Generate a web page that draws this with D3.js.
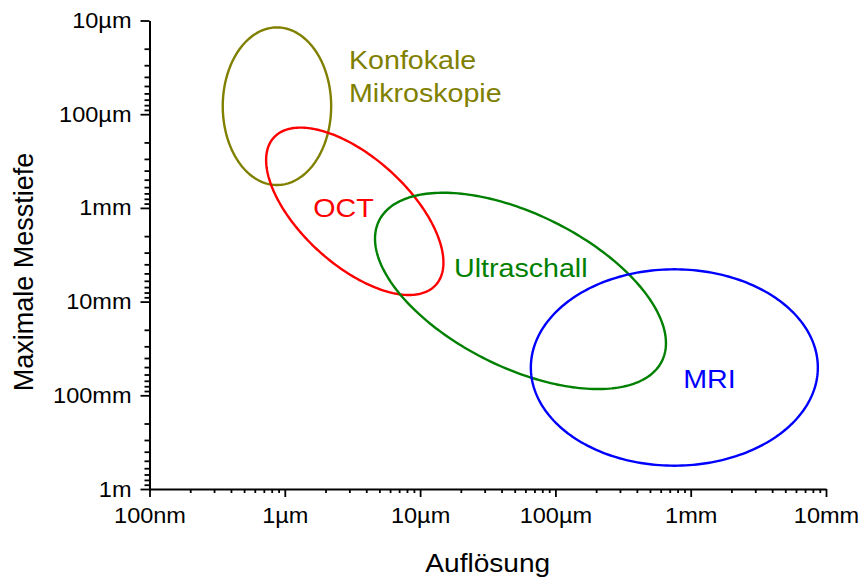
<!DOCTYPE html>
<html>
<head>
<meta charset="utf-8">
<script src="https://cdn.jsdelivr.net/npm/d3@7"></script>
<style>
  html, body { margin: 0; padding: 0; background: #fff; }
  svg { display: block; font-family: "Liberation Sans", Arial, sans-serif; }
</style>
</head>
<body>
<svg id="chart" width="862" height="579"></svg>
<script>
// ---- data ----
const modalities = ["Konfokale Mikroskopie", "OCT", "Ultraschall", "MRI"];
const labelLines = [["Konfokale", "Mikroskopie"], ["OCT"], ["Ultraschall"], ["MRI"]];
const colors = ["#808000", "#ff0000", "#008000", "#0000ff"];
// ellipse centres (metres)
const centerResolution = [8.75e-7, 3.29e-6, 5.52e-5, 7.57e-4];
const centerDepth = [8.22e-5, 1.087e-3, 7.69e-3, 0.0505];
// conjugate semi-axes in decades [dResolution, dDepth]
const axisA = [[0.4006, 0], [0.5986, 0.7865], [1.0453, 0.7492], [1.0606, 0]];
const axisB = [[0, 0.841], [-0.2666, 0.4231], [-0.2517, 0.7322], [0, 1.048]];
// label anchors (metres)
const labelResolution = [2.98e-6, 1.625e-6, 1.78e-5, 8.81e-4];
const labelDepth = [3.30e-5, 1.236e-3, 5.42e-3, 0.0826];

const xTickValues = [1e-7, 1e-6, 1e-5, 1e-4, 1e-3, 1e-2];
const xTickLabels = ["100nm", "1µm", "10µm", "100µm", "1mm", "10mm"];
const yTickValues = [1e-5, 1e-4, 1e-3, 1e-2, 1e-1, 1];
const yTickLabels = ["10µm", "100µm", "1mm", "10mm", "100mm", "1m"];
const xTitle = "Auflösung";
const yTitle = "Maximale Messtiefe";

// ---- scales ----
const svg = d3.select("#chart");
const x = d3.scaleLog().domain([1e-7, 1e-2]).range([149.5, 826]);
const y = d3.scaleLog().domain([1e-5, 1]).range([20.5, 489]);

function minorTicks(majors) {
  const out = [];
  for (let i = 0; i < majors.length - 1; i++)
    for (let k = 2; k <= 9; k++) out.push(majors[i] * k);
  return out;
}

const stretch = 1.07;

// x axis
const gx = svg.append("g").attr("transform", `translate(0,${y.range()[1]})`);
gx.append("g").call(d3.axisBottom(x).tickValues(minorTicks(xTickValues)).tickFormat("").tickSize(4).tickSizeOuter(0))
  .call(g => g.select(".domain").remove());
gx.append("g").call(d3.axisBottom(x).tickValues(xTickValues).tickFormat((d, i) => xTickLabels[i]).tickSize(8).tickSizeOuter(0).tickPadding(10));

// y axis
const gy = svg.append("g").attr("transform", `translate(${x.range()[0]},0)`);
gy.append("g").call(d3.axisLeft(y).tickValues(minorTicks(yTickValues)).tickFormat("").tickSize(5).tickSizeOuter(0))
  .call(g => g.select(".domain").remove());
gy.append("g").call(d3.axisLeft(y).tickValues(yTickValues).tickFormat((d, i) => yTickLabels[i]).tickSize(9).tickSizeOuter(0).tickPadding(9));

svg.selectAll(".domain").attr("stroke", "#000").attr("stroke-width", 2);
svg.selectAll(".tick line").attr("stroke", "#000").attr("stroke-width", 1.8);
svg.selectAll(".tick text").attr("font-size", 22).attr("fill", "#000")
  .attr("font-family", '"Liberation Sans", Arial, sans-serif');
gx.selectAll(".tick text").attr("transform", `scale(${stretch},1)`);
gy.selectAll(".tick text").each(function () {
  const t = d3.select(this);
  t.attr("x", +t.attr("x") / stretch).attr("transform", `scale(${stretch},1)`);
});

// ---- ellipses ----
const line = d3.line().curve(d3.curveLinearClosed);
const N = 240;
modalities.forEach((m, i) => {
  const lcx = Math.log10(centerResolution[i]);
  const lcy = Math.log10(centerDepth[i]);
  const pts = d3.range(N).map(k => {
    const t = 2 * Math.PI * k / N;
    const lx = lcx + axisA[i][0] * Math.cos(t) + axisB[i][0] * Math.sin(t);
    const ly = lcy + axisA[i][1] * Math.cos(t) + axisB[i][1] * Math.sin(t);
    return [x(Math.pow(10, lx)), y(Math.pow(10, ly))];
  });
  svg.append("path").attr("d", line(pts)).attr("fill", "none")
    .attr("stroke", colors[i]).attr("stroke-width", 2.4);
});

// ---- labels ----
modalities.forEach((m, i) => {
  const t = svg.append("text")
    .attr("transform", `translate(${x(labelResolution[i])},${y(labelDepth[i])}) scale(1.08,1)`)
    .attr("fill", colors[i]).attr("font-size", 26.5);
  labelLines[i].forEach((s, j) => {
    t.append("tspan").attr("x", 0).attr("y", j * 33.3).text(s);
  });
});

// ---- titles ----
svg.append("text")
  .attr("transform", `translate(${(x.range()[0] + x.range()[1]) / 2},572) scale(1.06,1)`)
  .attr("text-anchor", "middle").attr("font-size", 26.5).attr("fill", "#000").text(xTitle);
svg.append("text")
  .attr("transform", `translate(32.5,272) rotate(-90)`)
  .attr("text-anchor", "middle").attr("font-size", 27).attr("fill", "#000").text(yTitle);
</script>
</body>
</html>
